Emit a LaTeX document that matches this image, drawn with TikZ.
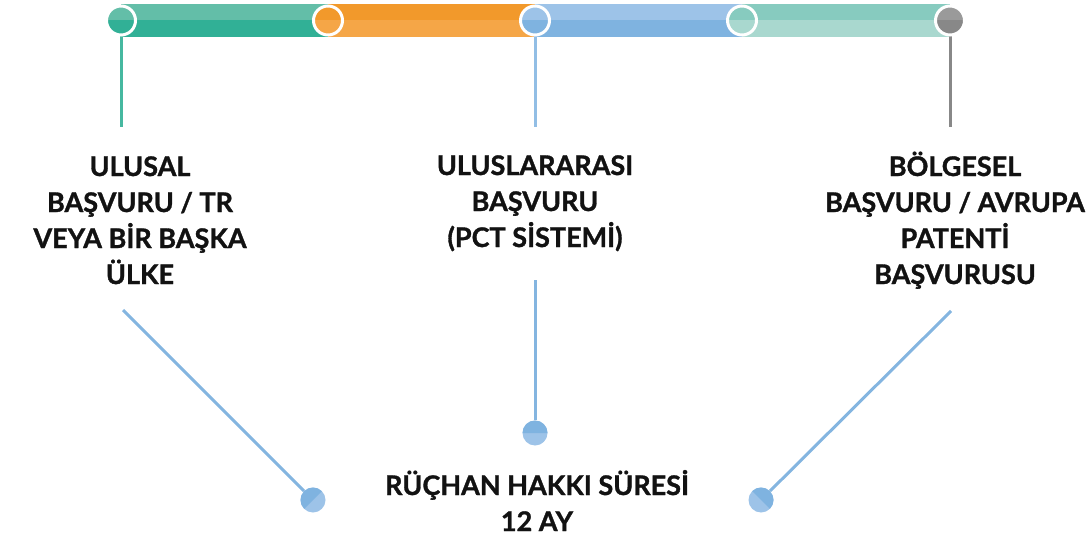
\documentclass[tikz,border=0pt]{standalone}
\usepackage{fontspec}
\setmainfont{Lato}[BoldFeatures={FakeBold=1.2}]
\definecolor{greenA}{HTML}{63BEA8}
\definecolor{greenB}{HTML}{31B096}
\definecolor{orangeA}{HTML}{F2992B}
\definecolor{orangeB}{HTML}{F5A647}
\definecolor{blueA}{HTML}{9DC3E8}
\definecolor{blueB}{HTML}{7FB3E0}
\definecolor{tealA}{HTML}{87CBBF}
\definecolor{tealB}{HTML}{A9D8CF}
\definecolor{grayA}{HTML}{9A9A9A}
\definecolor{grayB}{HTML}{888888}
\definecolor{linkblue}{HTML}{84B5E0}
\begin{document}
\begin{tikzpicture}[x=1pt,y=1pt,
    knob/.style 2 args={circle,minimum size=29pt,inner sep=0pt,draw=white,line width=3pt,
      path picture={\fill[#1] (path picture bounding box.north west) rectangle (path picture bounding box.east);
        \fill[#2] (path picture bounding box.west) rectangle (path picture bounding box.south east);}},
    bead/.style={circle,minimum size=25pt,inner sep=0pt,fill=blueA},
    heading/.style={align=center,anchor=base,inner sep=0pt,text=black!93,
      font=\bfseries\fontsize{27}{36}\selectfont},
    stem/.style={line width=3pt},
    link/.style={line width=3pt,draw=linkblue}]
  \useasboundingbox (0,0) rectangle (1086,539);
  \foreach \a/\b/\ctop/\cbot in {121/328/greenA/greenB,328/535/orangeA/orangeB,
      535/742/blueA/blueB,742/950/tealA/tealB}
    {\fill[\ctop] (\a,518.5) rectangle (\b,535);
     \fill[\cbot] (\a,502) rectangle (\b,518.5);}
  \coordinate (s0) at (121,412);
  \coordinate (s1) at (535,412);
  \coordinate (s2) at (950,412);
  \draw[stem,greenB!90!white] (121,518.5) -- (s0);
  \draw[stem,blueB!85!white] (535,518.5) -- (s1);
  \draw[stem,grayB] (950,518.5) -- (s2);
  \node[knob={greenA}{greenB}] (k0) at (121,518.5) {};
  \node[knob={orangeA}{orangeB}] (k1) at (328,518.5) {};
  \node[knob={blueA}{blueB}] (k2) at (535,518.5) {};
  \node[knob={tealA}{tealB}] (k3) at (742,518.5) {};
  \node[knob={grayA}{grayB}] (k4) at (950,518.5) {};
  \node[heading] (l0) at (140,255) {ULUSAL\\BAŞVURU / TR\\VEYA BİR BAŞKA\\ÜLKE};
  \node[heading] (l1) at (535,292) {ULUSLARARASI\\BAŞVURU\\(PCT SİSTEMİ)};
  \node[heading] (l2) at (955,255) {BÖLGESEL\\BAŞVURU / AVRUPA\\PATENTİ\\BAŞVURUSU};
  \node[heading] (l3) at (537,8) {RÜÇHAN HAKKI SÜRESİ\\12 AY};
  \node[bead] (b0) at (313,39) {};
  \node[bead] (b1) at (535,106) {};
  \node[bead] (b2) at (761,39) {};
  \fill[blueB] (b0.center) ++(45:12.5) arc (45:225:12.5) -- cycle;
  \fill[blueB] (b1.center) ++(0:12.5) arc (0:180:12.5) -- cycle;
  \fill[blueB] (b2.center) ++(-45:12.5) arc (-45:135:12.5) -- cycle;
  \coordinate (t0) at (123,229);
  \coordinate (t1) at (535,259);
  \coordinate (t2) at (951,228);
  \begin{scope}[link]
    \draw (t0) -- (b0);
    \draw (t1) -- (b1);
    \draw (t2) -- (b2);
  \end{scope}
\end{tikzpicture}
\end{document}
